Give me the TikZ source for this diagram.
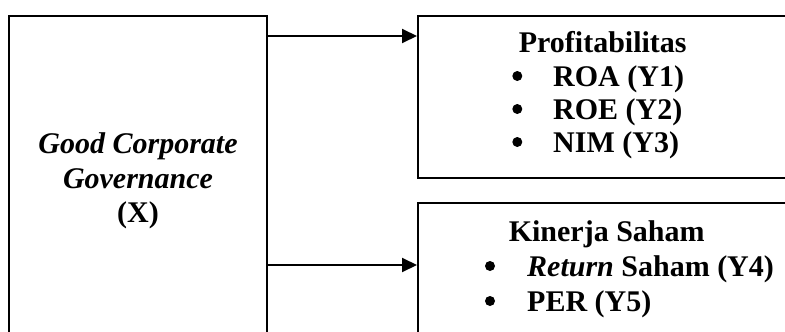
\documentclass[tikz,border=0pt]{standalone}
\usepackage{fontspec}
\setmainfont{Liberation Serif}
\usetikzlibrary{arrows.meta}
\tikzset{
  box/.style={draw=black, line width=2pt, rectangle, inner sep=0pt},
  arr/.style={draw=black, line width=2pt, -{Triangle[length=15pt,width=14pt]}},
  txt/.style={inner sep=0pt, font=\fontsize{30}{34.5}\selectfont\bfseries},
  dot/.style={circle, fill=black, inner sep=0pt, minimum size=10pt},
}
\begin{document}
\begin{tikzpicture}[x=1pt,y=-1pt]
\useasboundingbox (0,0) rectangle (785,332);
\clip (0,0) rectangle (785,332);
% boxes
\node[box, minimum width=258pt, minimum height=344pt] (gcg) at (138,188) {};
\node[box, minimum width=402pt, minimum height=162pt] (prof) at (619,97) {};
\node[box, minimum width=402pt, minimum height=157pt] (kin) at (619,281.5) {};
% arrows
\draw[arr] (gcg.east |- 0,36) -- (prof.west |- 0,36);
\draw[arr] (gcg.east |- 0,265) -- (kin.west |- 0,265);
% left text
\node[txt, anchor=base] (g1) at (138,153.5) {\itshape Good Corporate};
\node[txt, anchor=base] (g2) at (138,188) {\itshape Governance};
\node[txt, anchor=base] (g3) at (138,222) {(X)};
% top right text
\node[txt, anchor=base] (p0) at (602.7,52) {Profitabilitas};
\node[txt, anchor=base west] (p1) at (553,86) {ROA (Y1)};
\node[txt, anchor=base west] (p2) at (553,119) {ROE (Y2)};
\node[txt, anchor=base west] (p3) at (553,152) {NIM (Y3)};
\node[dot] (b1) at (517.3,76) {};
\node[dot] (b2) at (517.3,109) {};
\node[dot] (b3) at (517.3,142) {};
% bottom right text
\node[txt, anchor=base] (k0) at (606.7,241) {Kinerja Saham};
\node[txt, anchor=base west] (k1) at (527,276) {\textit{Return} Saham (Y4)};
\node[txt, anchor=base west] (k2) at (527,311) {PER (Y5)};
\node[dot] (b4) at (490,266) {};
\node[dot] (b5) at (490,301) {};
\end{tikzpicture}
\end{document}
